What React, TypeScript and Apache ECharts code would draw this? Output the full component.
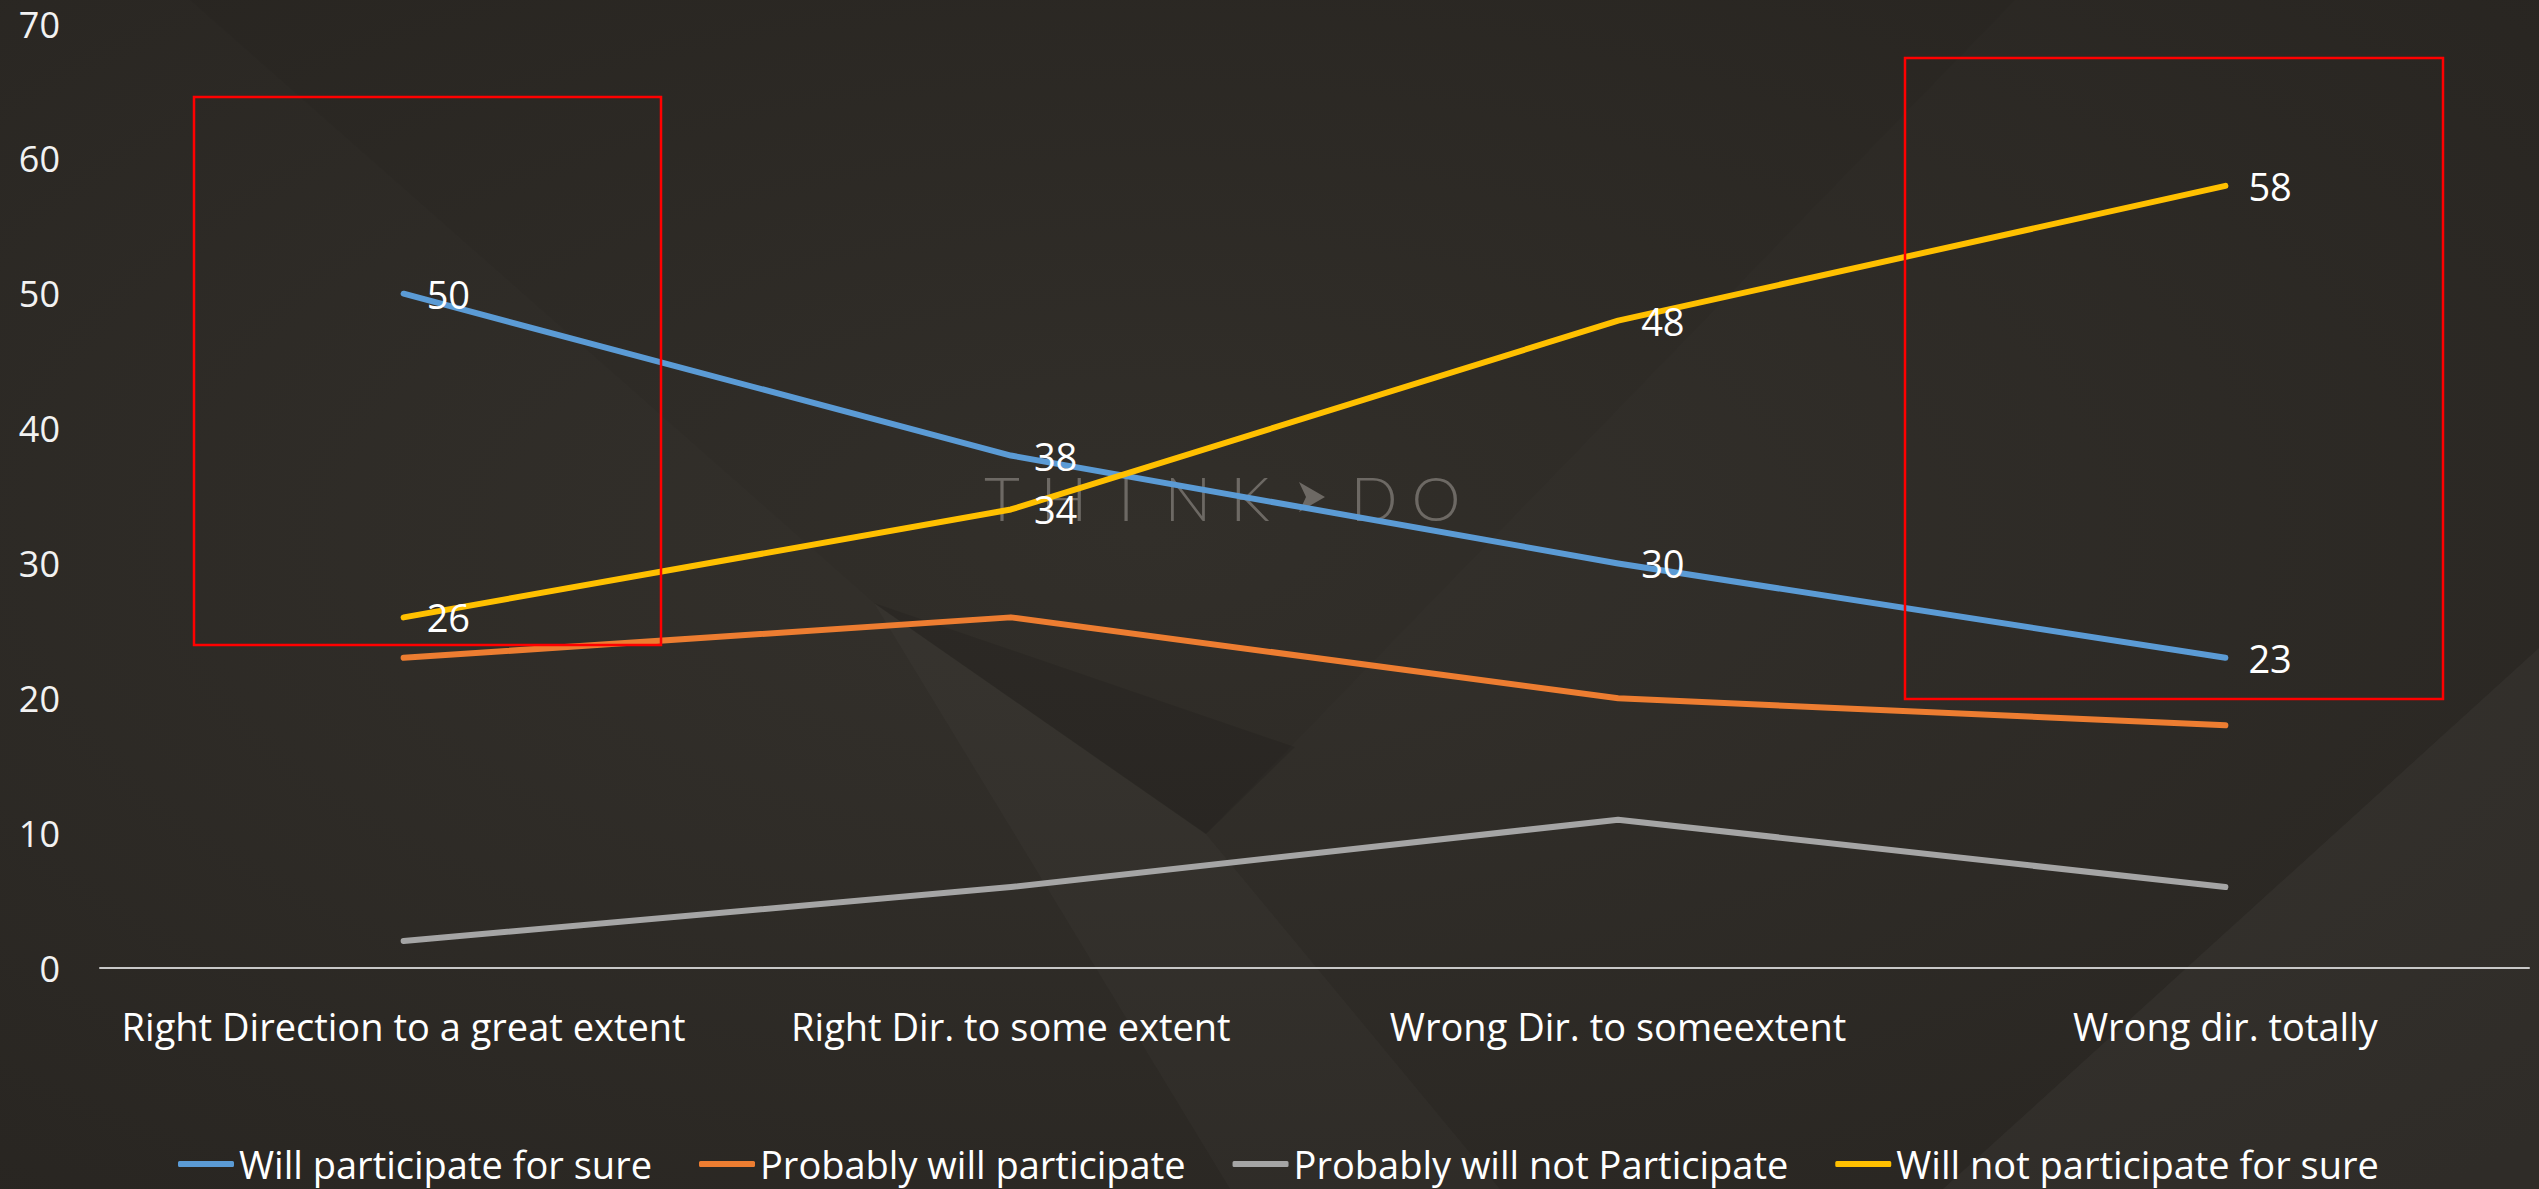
import React, { useEffect, useRef } from "react";
import * as echarts from "echarts";

// ---- data ----
const categories = [
  "Right Direction to a great extent",
  "Right Dir. to some extent",
  "Wrong Dir. to someextent",
  "Wrong dir. totally",
];
const seriesNames = [
  "Will participate for sure",
  "Probably will participate",
  "Probably will not Participate",
  "Will not participate for sure",
];
const willParticipate = [50, 38, 30, 23];
const probablyWill = [23, 26, 20, 18];
const probablyNot = [2, 6, 11, 6];
const willNot = [26, 34, 48, 58];
const seriesColors = ["#5B9BD5", "#ED7D31", "#A5A5A5", "#FFC000"];
const labelledSeries = [true, false, false, true];
const yMin = 0;
const yMax = 70;
const yInterval = 10;
const watermarkLetters = ["T", "H", "I", "N", "K", "", "D", "O"];

const FONT = '"Open Sans", "Noto Sans", sans-serif';

export default function App() {
  const ref = useRef<HTMLDivElement>(null);

  useEffect(() => {
    if (!ref.current) return;
    const chart = echarts.init(ref.current, undefined, { renderer: "svg" });
    const seriesData = [willParticipate, probablyWill, probablyNot, willNot];

    const wmX0 = 1002;
    const wmStep = 62;
    const wmY = 497;
    const watermark: any[] = watermarkLetters
      .map((ch, i) =>
        ch
          ? {
              type: "text",
              z: 1,
              x: wmX0 + i * wmStep,
              y: wmY,
              style: {
                text: ch,
                fill: "#6d6964",
                font: '300 62px "Lato", sans-serif',
                align: "center",
                verticalAlign: "middle",
              },
            }
          : null
      )
      .filter(Boolean);
    const cx = wmX0 + 5 * wmStep;
    watermark.push({
      type: "polygon",
      z: 1,
      shape: {
        points: [
          [cx - 13, wmY - 15],
          [cx + 13, wmY],
          [cx - 13, wmY + 15],
          [cx - 6, wmY],
        ],
      },
      style: { fill: "#6d6964" },
    });

    const bg: any[] = [
      {
        type: "rect",
        z: -20,
        shape: { x: 0, y: 0, width: 2539, height: 1189 },
        style: {
          fill: {
            type: "radial",
            x: 0.45,
            y: 0.45,
            r: 0.75,
            colorStops: [
              { offset: 0, color: "#34312c" },
              { offset: 1, color: "#282521" },
            ],
          },
        },
      },
      {
        type: "polygon",
        z: -19,
        shape: { points: [[874, 603], [1295, 747], [1206, 834]] },
        style: { fill: "rgba(0,0,0,0.09)" },
      },
      {
        type: "polygon",
        z: -19,
        shape: { points: [[874, 603], [1206, 834], [1500, 1189], [1230, 1189]] },
        style: { fill: "rgba(255,255,255,0.018)" },
      },
      {
        type: "polygon",
        z: -19,
        shape: { points: [[2539, 648], [2539, 1189], [1943, 1189]] },
        style: { fill: "rgba(255,255,255,0.035)" },
      },
      {
        type: "polygon",
        z: -19,
        shape: { points: [[190, 0], [2015, 0], [1206, 834], [874, 603]] },
        style: { fill: "rgba(0,0,0,0.03)" },
      },
    ];

    const boxes: any[] = [
      {
        type: "rect",
        z: 10,
        shape: { x: 194, y: 97, width: 467, height: 548 },
        style: { fill: "none", stroke: "#FF0000", lineWidth: 2.5 },
      },
      {
        type: "rect",
        z: 10,
        shape: { x: 1905, y: 58, width: 538, height: 641 },
        style: { fill: "none", stroke: "#FF0000", lineWidth: 2.5 },
      },
    ];

    chart.setOption({
      animation: false,
      backgroundColor: "#2d2a25",
      textStyle: { fontFamily: FONT },
      grid: { left: 100, right: 10, top: 24, bottom: 221, containLabel: false },
      legend: {
        left: 178,
        top: 1145,
        padding: 0,
        icon: "roundRect",
        itemWidth: 56,
        itemHeight: 6,
        itemGap: 47,
        textStyle: { color: "#FFFFFF", fontSize: 38, fontFamily: FONT, lineHeight: 34 },
        data: seriesNames,
      },
      xAxis: {
        type: "category",
        data: categories,
        boundaryGap: true,
        axisLine: { show: true, lineStyle: { color: "#C8C8C8", width: 2 } },
        axisTick: { show: false },
        axisLabel: {
          interval: 0,
          color: "#FFFFFF",
          fontSize: 38,
          fontFamily: FONT,
          margin: 35,
          lineHeight: 46,
        },
        splitLine: { show: false },
      },
      yAxis: {
        type: "value",
        min: yMin,
        max: yMax,
        interval: yInterval,
        axisLine: { show: false },
        axisTick: { show: false },
        splitLine: { show: false },
        axisLabel: {
          color: "#F2F2F2",
          fontSize: 36,
          fontFamily: FONT,
          margin: 40,
          lineHeight: 30,
        },
      },
      graphic: [...bg, ...watermark, ...boxes],
      series: seriesNames.map((name, i) => ({
        name,
        type: "line",
        data: seriesData[i],
        symbol: "circle",
        symbolSize: 2,
        showSymbol: true,
        z: 3,
        itemStyle: { color: seriesColors[i] },
        lineStyle: { color: seriesColors[i], width: 6, cap: "round", join: "round" },
        label: {
          show: labelledSeries[i],
          position: "right",
          distance: 22,
          color: "#FFFFFF",
          fontSize: 38,
          fontFamily: FONT,
        },
        emphasis: { disabled: true },
      })),
    });

    return () => chart.dispose();
  }, []);

  return (
    <div
      ref={ref}
      style={{ position: "fixed", left: 0, top: 0, width: 2539, height: 1189 }}
    />
  );
}
